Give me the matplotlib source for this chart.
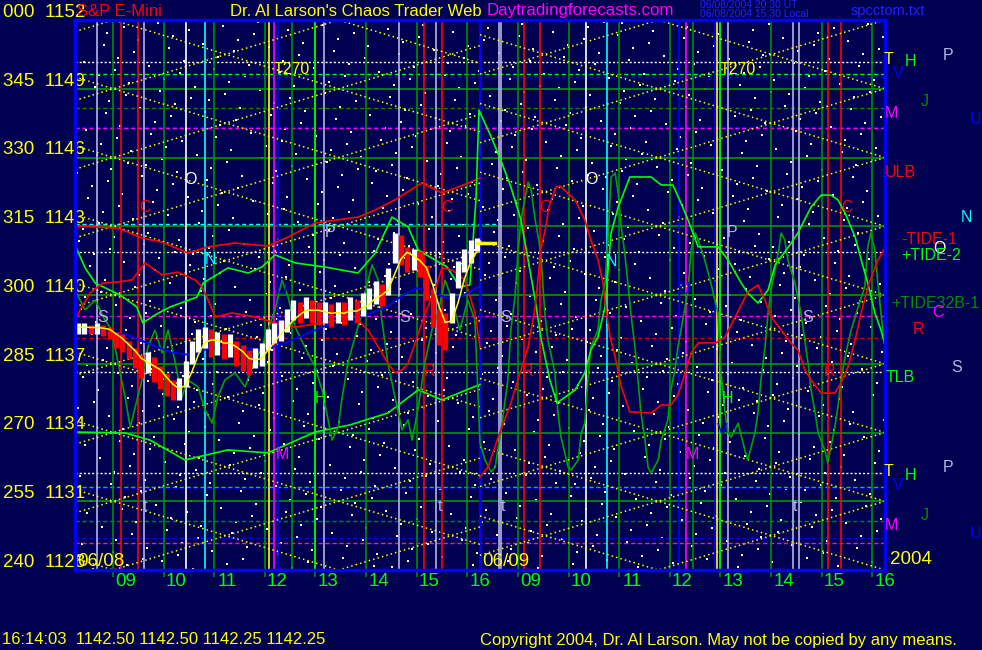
import matplotlib
matplotlib.use("Agg")
import matplotlib.pyplot as plt
import numpy as np
import pandas as pd

# x axis: continuous session hours, 0-8 = 06/08 08:00-16:00, 8-16 = 06/09 08:00-16:00
NAVY = '#000050'
GRID = '#008c00'
BGREEN = '#00ff00'
DGREEN = '#00a000'
LAV = '#b4b4e6'
RED = '#ff0000'
YEL = '#ffff00'
BLUE = '#0000ff'
MAG = '#ff00ff'
CYAN = '#00ffff'

plt.rcParams['font.family'] = ['Liberation Sans', 'DejaVu Sans']

# ---- data ----
deg_labels = ['000', '345', '330', '315', '300', '285', '270', '255', '240']
price_labels = [1152, 1149, 1146, 1143, 1140, 1137, 1134, 1131, 1128]
hour_labels = ['09', '10', '11', '12', '13', '14', '15', '16']

# 06/08 price bars (7.5 minute bars)
bar_close = [1138.6, 1138.6, 1138.55, 1138.6, 1138.5, 1138.4, 1138.0, 1137.9, 1137.6, 1137.2,
             1136.9, 1137.1, 1136.7, 1136.4, 1136.1, 1135.8, 1135.8, 1136.6, 1137.6, 1138.0,
             1138.2, 1137.9, 1138.0, 1137.8, 1137.9, 1137.5, 1137.2, 1137.0, 1137.3, 1137.4,
             1138.1, 1138.3, 1138.5, 1138.9, 1139.3, 1139.2, 1139.5, 1139.3, 1139.2, 1139.3,
             1139.1, 1139.3, 1139.2, 1139.4, 1139.3, 1139.6, 1139.9, 1140.1, 1140.0, 1140.6,
             1142.1, 1142.0, 1141.5, 1141.6, 1141.4, 1140.6, 1139.4, 1138.6, 1138.4, 1139.6,
             1140.9, 1141.5, 1141.9, 1142.25]
bar_high = [1138.8, 1138.8, 1138.7, 1138.8, 1138.7, 1138.6, 1138.4, 1138.3, 1138.0, 1137.7,
            1137.4, 1137.5, 1137.3, 1136.9, 1136.6, 1136.3, 1136.4, 1137.1, 1138.0, 1138.5,
            1138.6, 1138.5, 1138.4, 1138.3, 1138.3, 1138.0, 1137.8, 1137.6, 1137.7, 1137.9,
            1138.5, 1138.8, 1138.9, 1139.4, 1139.8, 1139.7, 1139.9, 1139.8, 1139.7, 1139.7,
            1139.6, 1139.7, 1139.7, 1139.9, 1139.8, 1140.1, 1140.3, 1140.6, 1140.5, 1141.2,
            1142.7, 1142.6, 1142.1, 1142.0, 1141.9, 1141.3, 1140.3, 1139.4, 1139.2, 1140.1,
            1141.5, 1142.0, 1142.4, 1142.5]
bar_low = [1138.3, 1138.3, 1138.3, 1138.3, 1138.2, 1138.1, 1137.7, 1137.5, 1137.2, 1136.8,
           1136.4, 1136.6, 1136.2, 1135.9, 1135.6, 1135.4, 1135.4, 1136.0, 1137.0, 1137.5,
           1137.7, 1137.3, 1137.4, 1137.2, 1137.3, 1136.9, 1136.7, 1136.5, 1136.8, 1136.9,
           1137.6, 1137.9, 1138.0, 1138.4, 1138.9, 1138.8, 1139.0, 1138.8, 1138.7, 1138.8,
           1138.6, 1138.8, 1138.7, 1138.9, 1138.8, 1139.1, 1139.4, 1139.6, 1139.5, 1140.0,
           1141.4, 1141.3, 1141.0, 1141.1, 1140.8, 1139.8, 1138.6, 1137.8, 1137.6, 1138.8,
           1140.3, 1141.0, 1141.4, 1141.9]
last_price = 1142.25

# upper / lower line bands (06/08)
ulb_t = [0, 0.85, 1.32, 1.72, 2.23, 2.63, 3.16, 3.56, 3.81, 4.21, 4.74, 5.59, 5.93, 6.32, 6.85, 7.25, 7.57, 8.0]
ulb_p = [1143.01, 1142.92, 1142.49, 1142.31, 1141.83, 1142.10, 1142.27, 1142.18, 1142.14, 1142.53,
         1143.14, 1143.40, 1143.71, 1144.15, 1144.89, 1144.45, 1144.71, 1145.1]
tlb_t = [0, 0.99, 1.48, 2.17, 3.02, 3.81, 4.74, 5.43, 6.18, 6.78, 7.25, 8.0]
tlb_p = [1134.02, 1133.98, 1133.67, 1132.8, 1133.24, 1133.11, 1134.02, 1134.33, 1134.85, 1135.86,
         1135.42, 1136.1]

# blue average (06/08)
blue_t = [0, 0.55, 1.03, 1.42, 1.88, 2.27, 2.67, 3.32, 3.69, 4.05, 4.44, 4.84, 5.23, 5.63, 6.16,
          6.48, 6.76, 7.07, 7.35, 7.60, 7.86, 8.0]
blue_p = [1138.47, 1138.39, 1138.26, 1137.91, 1137.51, 1137.38, 1137.69, 1137.69, 1137.6, 1137.82,
          1138.17, 1138.56, 1138.91, 1139.04, 1139.48, 1140.0, 1140.31, 1140.09, 1139.87, 1139.91,
          1140.22, 1140.39]

# +TIDE-2
tide2_t = [0, 0.2, 0.4, 0.89, 1.22, 1.34, 1.58, 1.88, 2.41, 2.53, 3.02, 3.42, 3.69, 3.95, 4.35,
           4.94, 5.59, 5.93, 6.26, 6.58, 6.78, 7.11, 7.35, 7.60, 7.80, 7.92, 7.98,
           8.22, 8.41, 8.61, 8.81, 8.95, 9.09, 9.20, 9.38, 9.52, 9.88, 10.07, 10.19, 10.33, 10.47,
           10.53, 10.59, 10.73, 10.96, 11.38, 11.58, 11.81, 11.97, 12.11, 12.31, 12.70, 12.90,
           13.16, 13.29, 13.49, 13.69, 13.83, 14.12, 14.28, 14.54, 14.74, 14.93, 15.07, 15.21,
           15.41, 15.53, 15.66, 15.80, 15.92, 16.0]
tide2_p = [1142.18, 1141.18, 1140.52, 1140.0, 1139.48, 1138.78, 1139.13, 1139.48, 1139.91, 1140.52,
           1141.18, 1140.96, 1141.22, 1141.75, 1141.40, 1141.22, 1140.96, 1141.83, 1143.40, 1142.97,
           1141.96, 1141.53, 1141.22, 1140.35, 1140.44, 1144.15, 1148.07,
           1146.9, 1145.89, 1144.71, 1143.27, 1141.53, 1139.78, 1138.17, 1136.29, 1135.29, 1135.86,
           1136.6, 1137.6, 1138.17, 1139.48, 1141.09, 1142.71, 1143.84, 1145.15, 1145.15, 1144.8,
           1144.8, 1144.01, 1143.27, 1142.1, 1142.1, 1141.53, 1140.52, 1140.09, 1139.65, 1140.22,
           1141.31, 1142.18, 1142.71, 1143.84, 1144.36, 1144.36, 1144.15, 1143.58, 1142.53,
           1141.53, 1140.52, 1139.22, 1138.47, 1137.82]

# -TIDE-1 (06/08 part, then 06/09 forecast)
tide1a_t = [0, 0.1, 0.3, 0.55, 0.85, 1.13, 1.38, 1.72, 2.03, 2.37, 2.51, 2.63, 2.77, 3.10, 3.56,
            3.95, 4.35, 4.88, 5.53, 5.79, 5.99, 6.18, 6.32, 6.46, 6.58, 6.72, 6.85, 6.97, 7.11,
            7.25, 7.45, 7.70, 7.90, 8.0]
tide1a_p = [1138.91, 1139.35, 1140.09, 1140.52, 1140.57, 1140.66, 1141.40, 1140.87, 1141.0, 1140.66,
            1140.35, 1139.78, 1139.04, 1139.22, 1139.04, 1138.78, 1138.60, 1138.78, 1139.04, 1138.47,
            1137.73, 1137.03, 1136.6, 1136.73, 1137.03, 1137.91, 1138.78, 1139.48, 1140.22,
            1141.18, 1141.09, 1140.66, 1139.22, 1137.73]
tide1b_t = [8.0, 8.16, 8.36, 8.61, 8.81, 8.95, 9.09, 9.2, 9.30, 9.36, 9.50, 9.58, 9.88, 10.07, 10.19,
            10.33, 10.43, 10.49, 10.57, 10.67, 10.79, 10.96, 11.38, 11.58, 11.77, 11.91, 12.01,
            12.17, 12.31, 12.66, 12.84, 13.04, 13.29, 13.49, 13.63, 13.75, 13.95, 14.14, 14.28,
            14.42, 14.54, 14.74, 15.01, 15.13, 15.27, 15.41, 15.53, 15.66, 15.86, 16.0]
tide1b_p = [1132.06, 1132.5, 1133.8, 1135.29, 1136.73, 1137.73, 1139.48, 1141.96, 1142.97, 1143.84,
            1144.71, 1144.76, 1144.15, 1143.27, 1142.40, 1141.53, 1140.52, 1139.35, 1138.17, 1137.30,
            1135.99, 1134.9, 1134.85, 1135.2, 1135.2, 1135.64, 1136.29, 1137.47, 1137.91, 1137.91,
            1138.17, 1139.04, 1140.13, 1140.44, 1139.78, 1139.04, 1138.47, 1137.91, 1137.6,
            1136.73, 1136.29, 1135.72, 1135.72, 1136.16, 1136.86, 1138.04, 1139.22, 1140.35,
            1141.53, 1142.05]

# +TIDE32B-1
tide32_t = [0.00, 0.20, 0.40, 0.59, 0.73, 0.85, 0.99, 1.09, 1.19, 1.32, 1.44, 1.58, 1.72, 1.84, 1.98,
            2.11, 2.23, 2.43, 2.57, 2.71, 2.82, 2.96, 3.16, 3.36, 3.50, 3.69, 3.81, 3.95, 4.09, 4.21,
            4.35, 4.54, 4.74, 4.88, 5.00, 5.08, 5.20, 5.27, 5.39, 5.53, 5.67, 5.73, 5.79, 5.87, 5.99,
            6.06, 6.18, 6.32, 6.46, 6.58, 6.66, 6.78, 6.91, 7.05, 7.17, 7.31, 7.45, 7.60, 7.76, 7.90,
            8.00, 8.10, 8.22, 8.30, 8.36, 8.41, 8.55, 8.61, 8.69, 8.75, 8.81, 8.95, 9.01, 9.09, 9.15,
            9.20, 9.28, 9.34, 9.48, 9.54, 9.60, 9.74, 9.80, 9.94, 10.00, 10.07, 10.13, 10.19, 10.33,
            10.39, 10.47, 10.53, 10.59, 10.67, 10.73, 10.79, 10.86, 10.92, 10.98, 11.06, 11.12, 11.18,
            11.26, 11.32, 11.38, 11.52, 11.58, 11.71, 11.77, 11.85, 11.91, 11.97, 12.05, 12.11, 12.17,
            12.25, 12.31, 12.44, 12.56, 12.70, 12.76, 12.84, 12.90, 12.96, 13.10, 13.23, 13.29, 13.43,
            13.49, 13.55, 13.63, 13.69, 13.75, 13.89, 13.95, 14.02, 14.08, 14.22, 14.34, 14.48, 14.54,
            14.62, 14.68, 14.81, 14.87, 14.93, 15.01, 15.07, 15.13, 15.21, 15.33, 15.47, 15.60, 15.66,
            15.72, 15.80, 15.86, 15.92, 16.00]
tide32_p = [1140.22, 1139.35, 1139.78, 1138.91, 1138.47, 1137.03, 1135.55, 1134.24, 1135.11, 1136.29,
            1137.73, 1138.47, 1137.47, 1138.47, 1137.03, 1135.55, 1136.29, 1135.99, 1134.98, 1134.41,
            1135.55, 1136.29, 1136.60, 1135.99, 1136.86, 1137.73, 1138.47, 1139.35, 1140.65, 1139.91,
            1138.60, 1137.73, 1136.86, 1135.85, 1134.55, 1133.67, 1134.24, 1135.42, 1137.03, 1138.17,
            1139.21, 1140.09, 1140.65, 1141.31, 1140.65, 1138.91, 1137.03, 1135.55, 1134.11, 1134.55,
            1133.67, 1135.11, 1137.03, 1138.47, 1139.21, 1140.65, 1139.78, 1138.47, 1139.78, 1138.91,
            1133.54, 1132.80, 1132.28, 1132.49, 1133.37, 1133.98, 1136.29, 1138.47, 1139.91, 1141.83,
            1143.27, 1144.93, 1144.58, 1143.27, 1142.53, 1141.83, 1139.21, 1138.04, 1136.60, 1134.85,
            1133.80, 1132.49, 1132.36, 1132.80, 1133.98, 1134.41, 1136.29, 1137.73, 1138.47, 1139.78,
            1140.52, 1142.53, 1145.15, 1145.32, 1144.45, 1142.97, 1141.83, 1140.52, 1139.21, 1137.73,
            1136.29, 1134.85, 1133.67, 1132.49, 1132.23, 1132.80, 1133.67, 1134.55, 1135.85, 1136.73,
            1137.73, 1138.47, 1139.48, 1140.22, 1141.96, 1142.71, 1142.40, 1141.53, 1140.52, 1139.21,
            1136.60, 1134.85, 1133.98, 1133.80, 1134.41, 1133.24, 1132.80, 1133.98, 1134.85, 1136.29,
            1137.73, 1139.21, 1140.22, 1141.83, 1142.71, 1142.40, 1141.53, 1140.52, 1139.21, 1137.03,
            1135.85, 1134.85, 1133.98, 1133.24, 1132.67, 1133.37, 1134.24, 1135.11, 1136.29, 1137.29,
            1138.47, 1139.48, 1140.35, 1142.09, 1142.71, 1141.96, 1140.52, 1139.21, 1137.73]

# horizontal price levels: (price, colour, style)
levels = [(1150.18, 'white', 'dot'), (1149.64, BGREEN, 'dash'), (1149.53, BLUE, 'dash'),
          (1148.15, GRID, 'dash'), (1147.34, BLUE, 'dash'), (1147.27, MAG, 'dash'),
          (1141.86, 'white', 'dot'), (1139.09, MAG, 'dash'), (1138.11, '#d00000', 'dash'),
          (1136.63, 'white', 'dot'), (1132.22, 'white', 'dot'), (1131.64, BGREEN, 'dash'),
          (1131.58, BLUE, 'dash'), (1130.15, GRID, 'dash'), (1129.4, BLUE, 'dash'),
          (1129.2, MAG, 'dash')]
cyan_level = 1143.1

# vertical time lines: (session hour, colour)
vlines = [(0.43, LAV), (0.91, RED), (1.25, RED), (1.37, LAV), (2.19, 'white'), (2.57, CYAN),
          (3.84, YEL), (3.94, MAG), (4.00, BLUE), (4.28, GRID), (4.74, BGREEN), (4.92, LAV),
          (6.40, LAV), (6.90, RED), (7.14, LAV), (7.24, RED),
          (8.37, LAV), (8.42, LAV), (8.87, RED), (9.18, RED), (10.10, 'white'), (10.50, CYAN),
          (11.94, BLUE), (12.06, MAG), (12.21, GRID), (12.64, BLUE), (12.69, YEL), (12.74, BGREEN),
          (12.89, LAV), (14.19, LAV), (14.31, LAV), (14.87, RED), (15.14, RED)]

# lattice anchors per day: (start, end, apex hour, half period)
lattices = [(0.0, 8.0, 0.757, 4.45), (8.0, 16.0, 11.52, 4.48)]

# letters in the chart: (text, hour, price, colour)
marks = [('T270', 4.29, 1149.86, YEL), ('T270', 13.1, 1149.86, YEL),
         ('O', 2.29, 1145.06, 'white'), ('O', 10.21, 1145.06, 'white'),
         ('C', 1.38, 1143.84, RED), ('C', 7.35, 1143.8, RED), ('C', 9.28, 1143.84, RED),
         ('C', 15.25, 1143.84, RED),
         ('P', 5.04, 1142.71, LAV), ('P', 12.98, 1142.71, LAV),
         ('N', 2.67, 1141.53, CYAN), ('N', 10.6, 1141.44, CYAN),
         ('U', 4.09, 1140.22, BLUE), ('U', 12.05, 1140.22, BLUE),
         ('S', 0.55, 1139.0, LAV), ('S', 6.52, 1139.0, LAV), ('S', 8.51, 1139.0, LAV),
         ('S', 14.48, 1139.0, LAV),
         ('R', 7.01, 1136.64, RED), ('R', 8.93, 1136.64, RED), ('R', 14.91, 1136.64, RED),
         ('H', 4.84, 1135.5, BGREEN), ('H', 12.88, 1135.5, BGREEN),
         ('V', 12.78, 1134.1, BLUE),
         ('M', 4.09, 1133.02, MAG), ('M', 12.19, 1133.02, MAG),
         ('t', 1.38, 1130.75, LAV), ('t', 7.21, 1130.75, LAV), ('t', 8.45, 1130.75, LAV),
         ('t', 14.22, 1130.75, LAV)]

# right margin legend: (text, x px, y px, colour)
right_labels = [('T', 888, 60, YEL), ('H', 910, 62, BGREEN), ('P', 948, 55, LAV), ('V', 898, 74, BLUE),
                ('J', 925, 102, GRID), ('M', 891, 113, MAG), ('U', 976, 120, BLUE),
                ('ULB', 900, 172, RED), ('N', 966, 218, CYAN),
                ('-TIDE-1', 929, 240, RED), ('O', 939, 248, 'white'), ('+TIDE-2', 931, 256, BGREEN),
                ('+TIDE32B-1', 935, 303, GRID), ('C', 938, 313, MAG), ('R', 918, 330, RED),
                ('S', 957, 367, LAV), ('TLB', 900, 378, BGREEN),
                ('T', 888, 472, YEL), ('H', 910, 475, BGREEN), ('P', 948, 467, LAV), ('V', 898, 486, BLUE),
                ('J', 925, 515, GRID), ('M', 891, 525, MAG), ('U', 976, 533, BLUE)]

# ---- figure ----
W, H = 982, 650
fig = plt.figure(figsize=(W / 100, H / 100), dpi=100, facecolor=NAVY)
ax = fig.add_axes([75 / W, 80 / H, 810 / W, 550 / H])
ax.set_facecolor(NAVY)
ax.set_xlim(0, 16)
ax.set_ylim(1128, 1152)
ax.set_xticks([])
ax.set_yticks([])
for s in ax.spines.values():
    s.set_color(BLUE)
    s.set_linewidth(2.5)
    s.set_zorder(20)

# star background (decoration only)
k = np.arange(1, 1101)
sx = (0.31 + k * 0.7548776662) % 1
sy = (0.17 + k * 0.5698402910) % 1
ax.scatter(sx, sy, s=1.3, c='white', marker='s', linewidths=0, transform=ax.transAxes, zorder=1)

# horizontal levels
ax.hlines(price_labels[1:-1], 0, 16, color=GRID, lw=1.3, zorder=2)
for p, c, st in levels:
    ls = (0, (1.5, 1.5)) if st == 'dot' else (0, (3, 2))
    ax.axhline(p, color=c, lw=1, ls=ls, zorder=2)
ax.plot([0, 8.4], [cyan_level, cyan_level], color=CYAN, lw=1, ls=(0, (3, 2)), zorder=2)

# hour grid (quarter to the hour), extending as ticks below the frame
grid_t = [h - 0.25 for h in range(1, 17)]
ax.vlines(grid_t, 1127.7, 1152, color=GRID, lw=1.2, zorder=3, clip_on=False)
for t, c in vlines:
    ax.axvline(t, color=c, lw=1.2, zorder=3)
ax.axvline(8.0, color=BLUE, lw=2.2, zorder=3)

# yellow dotted lattice
for t_a, t_b, t0, half in lattices:
    slope = 3.0 / half
    for m in range(-20, 30):
        for sgn in (1, -1):
            pa = 1128 + 3 * m + sgn * slope * (t_a - t0)
            pb = 1128 + 3 * m + sgn * slope * (t_b - t0)
            if max(pa, pb) < 1127 or min(pa, pb) > 1153:
                continue
            ax.plot([t_a, t_b], [pa, pb], color=YEL, lw=1.1, ls=(0, (1, 2)), zorder=4)

# curves
ax.plot(ulb_t, ulb_p, color=RED, lw=1.2, zorder=5)
ax.plot(tlb_t, tlb_p, color=BGREEN, lw=1.2, zorder=5)
ax.plot(tide32_t, tide32_p, color=DGREEN, lw=1.2, zorder=5)
ax.plot(tide2_t, tide2_p, color=BGREEN, lw=1.2, zorder=5)
ax.plot(tide1a_t, tide1a_p, color=RED, lw=1.2, zorder=5)
ax.plot(tide1b_t, tide1b_p, color=RED, lw=1.2, zorder=5)
ax.plot(blue_t, blue_p, color=BLUE, lw=1.3, zorder=5)

# price bars
close = np.array(bar_close)
bar_t = 0.0625 + 0.125 * np.arange(len(close))
down = np.r_[False, close[1:] < close[:-1]]
cols = [RED if d else 'white' for d in down]
ax.vlines(bar_t, bar_low, bar_high, colors=cols, lw=3.8, zorder=6)
ma = pd.Series(close).rolling(3, min_periods=1).mean()
ax.plot(bar_t, ma, color=YEL, lw=1.1, zorder=7)
ax.plot([bar_t[-1], 8.3], [last_price, last_price], color=YEL, lw=2.5, zorder=7)

# letters inside chart
for txt, t, p, c in marks:
    ax.text(t, p, txt, color=c, fontsize=11.5, ha='center', va='center', zorder=8)

# ---- outer text ----
def ftext(x, y, s, **kw):
    fig.text(x / W, 1 - y / H, s, **kw)

for dl, pl in zip(deg_labels, price_labels):
    ax.text(-0.089, pl + 0.33, f'{dl}  {pl}', color=YEL, fontsize=13.5, ha='left', va='center',
            transform=ax.get_yaxis_transform(), zorder=9, clip_on=False)

for i, hl in enumerate(hour_labels):
    for day in (0, 8):
        ax.text(day + i + 1, 1127.5, hl, color=BGREEN, fontsize=13.5, ha='center', va='center',
                clip_on=False)

ax.text(0.05, 1128.35, '06/08', color=YEL, fontsize=13.5, ha='left', va='center', zorder=10)
ax.text(8.05, 1128.35, '06/09', color=YEL, fontsize=13.5, ha='left', va='center', zorder=10)
ftext(890, 560, '2004', color=YEL, fontsize=13.5, ha='left', va='center')

ftext(77, 11, 'S&P E-Mini', color=RED, fontsize=12, ha='left', va='center', zorder=12)
ftext(230, 11, "Dr. Al Larson's Chaos Trader Web", color=YEL, fontsize=12, ha='left', va='center')
ftext(487, 11, 'Daytradingforecasts.com', color=MAG, fontsize=12.2, ha='left', va='center')
ftext(700, 5, '06/08/2004 20:30 UT', color='#2020ff', fontsize=7.5, ha='left', va='center')
ftext(700, 14, '06/08/2004 15:30 Local', color='#2020ff', fontsize=7.5, ha='left', va='center')
ftext(851, 11, 'spcctom.txt', color='#2020ff', fontsize=10.5, ha='left', va='center')

ftext(2, 640, '16:14:03  1142.50 1142.50 1142.25 1142.25', color=YEL, fontsize=12,
      ha='left', va='center')
ftext(480, 640, 'Copyright 2004, Dr. Al Larson. May not be copied by any means.', color=YEL,
      fontsize=12, ha='left', va='center')

for txt, x, y, c in right_labels:
    ftext(x, y, txt, color=c, fontsize=11.5, ha='center', va='center')

fig.savefig('out.png', dpi=100, facecolor=NAVY)
